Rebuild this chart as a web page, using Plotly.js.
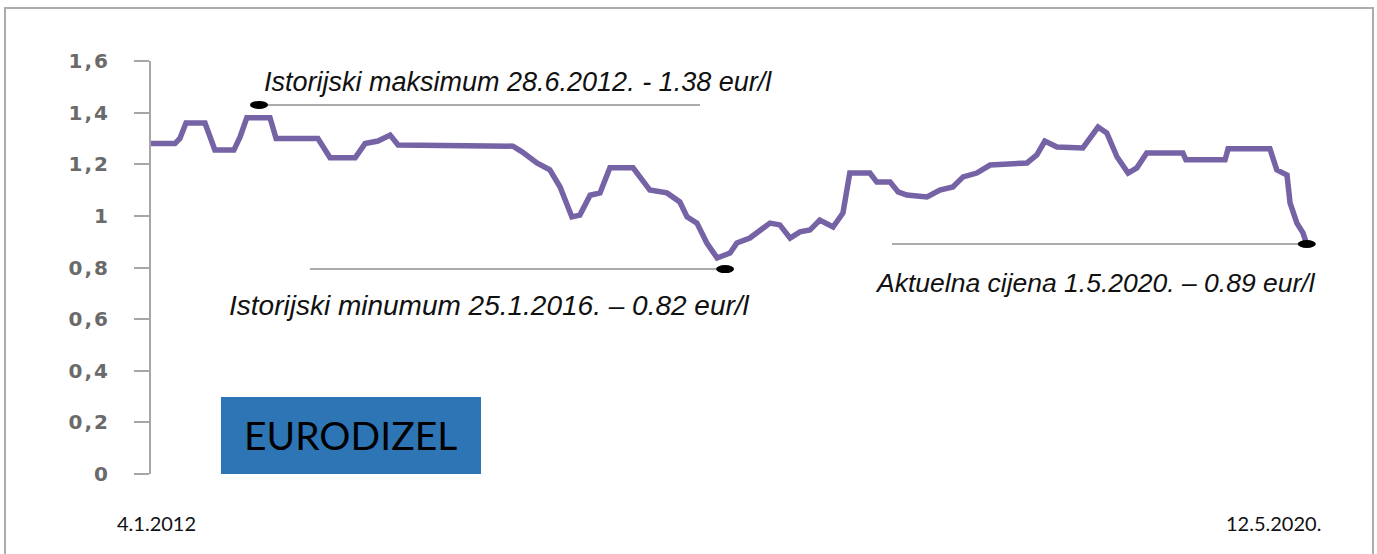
<!DOCTYPE html>
<html>
<head>
<meta charset="utf-8">
<script src="https://cdn.plot.ly/plotly-3.0.1.min.js"></script>
<style>
  html, body { margin: 0; padding: 0; background: #fff; }
  #chart { width: 1377px; height: 554px; }
  #frame { position: absolute; left: 4px; top: 7px; width: 1366px; height: 600px;
           border: 2px solid #ababab; pointer-events: none; }
  .ytick text { letter-spacing: 2px; }
</style>
</head>
<body>
<div id="chart"></div>
<div id="frame"></div>
<script>
// days since 4.1.2012 (positions) and price in eur/l
const days = [0, 63, 76, 92, 142, 168, 218, 234, 252, 313, 329, 439, 471, 537, 563, 597, 629, 650,
  952, 976, 1015, 1049, 1076, 1107, 1128, 1155, 1181, 1207, 1268, 1312, 1357, 1391, 1410, 1436,
  1462, 1489, 1523, 1541, 1575, 1628, 1654, 1681, 1707, 1733, 1759, 1794, 1820, 1838, 1891, 1909,
  1944, 1965, 1988, 2022, 2041, 2075, 2109, 2136, 2172, 2207, 2304, 2330, 2351, 2383, 2451, 2491,
  2514, 2541, 2570, 2593, 2619, 2714, 2722, 2825, 2833, 2943, 2961, 2988, 2996, 3014, 3030, 3040];
const price = [1.28, 1.28, 1.30, 1.36, 1.36, 1.255, 1.255, 1.305, 1.38, 1.38, 1.30, 1.30, 1.225, 1.225,
  1.28, 1.29, 1.313, 1.275, 1.27, 1.248, 1.205, 1.178, 1.112, 0.996, 1.003, 1.08, 1.089, 1.186, 1.186,
  1.10, 1.089, 1.054, 0.996, 0.972, 0.895, 0.837, 0.856, 0.895, 0.914, 0.972, 0.965, 0.914, 0.938,
  0.945, 0.984, 0.957, 1.011, 1.166, 1.166, 1.131, 1.131, 1.093, 1.081, 1.073, 1.073, 1.10, 1.112,
  1.151, 1.166, 1.197, 1.205, 1.236, 1.29, 1.267, 1.263, 1.344, 1.321, 1.228, 1.166, 1.186, 1.244,
  1.244, 1.217, 1.217, 1.26, 1.26, 1.178, 1.158, 1.05, 0.972, 0.934, 0.89];

// annotation markers (max, min, current)
const markDays = [284, 1510, 3040];
const markVals = [1.43, 0.794, 0.891];
const guideStart = [300, 418, 1949];
const guideEnd = [1444, 1496, 3022];
const labelTexts = ["Istorijski maksimum 28.6.2012. - 1.38 eur/l",
                    "Istorijski minumum 25.1.2016. \u2013 0.82 eur/l",
                    "Aktuelna cijena 1.5.2020. \u2013 0.89 eur/l"];
const labelDays = [292, 200, 1899];
const labelVals = [1.519, 0.651, 0.740];
const labelSizes = [27, 28, 26.5];

const startLabel = "4.1.2012";
const endLabel = "12.5.2020.";
const boxText = "EURODIZEL";

const shapes = [];
const annotations = [];
for (let i = 0; i < markDays.length; i++) {
  shapes.push({type: 'line', xref: 'x', yref: 'y', x0: guideStart[i], x1: guideEnd[i],
    y0: markVals[i], y1: markVals[i], line: {color: '#ababab', width: 2}});
  shapes.push({type: 'circle', xref: 'x', yref: 'y', xsizemode: 'pixel', ysizemode: 'pixel',
    xanchor: markDays[i], yanchor: markVals[i], x0: -9, x1: 9, y0: -4, y1: 4,
    fillcolor: '#000', line: {width: 0}});
  annotations.push({xref: 'x', yref: 'y', x: labelDays[i], y: labelVals[i], xanchor: 'left',
    yanchor: 'middle', text: labelTexts[i], showarrow: false,
    font: {family: 'Liberation Sans, Arial, sans-serif', size: labelSizes[i], style: 'italic', color: '#111'}});
}
// EURODIZEL box
shapes.push({type: 'rect', xref: 'x', yref: 'y', x0: 184, x1: 868, y0: 0, y1: 0.298,
  fillcolor: '#2E75B6', line: {width: 0}});
annotations.push({xref: 'x', yref: 'y', x: 526, y: 0.151, text: boxText, showarrow: false,
  xanchor: 'center', yanchor: 'middle', font: {family: 'Lato, Open Sans, sans-serif', size: 39, color: '#000'}});
annotations.push({xref: 'paper', yref: 'paper', x: -0.0307, y: -0.1186, text: startLabel, showarrow: false,
  xanchor: 'left', yanchor: 'middle', font: {family: 'Lato, sans-serif', size: 20, color: '#111'}});
annotations.push({xref: 'paper', yref: 'paper', x: 0.9163, y: -0.1186, text: endLabel, showarrow: false,
  xanchor: 'left', yanchor: 'middle', font: {family: 'Lato, sans-serif', size: 20, color: '#111'}});

const trace = {x: days, y: price, type: 'scatter', mode: 'lines',
  line: {color: '#7563A5', width: 5.5, shape: 'linear'}, hoverinfo: 'skip'};

const layout = {
  width: 1377, height: 554,
  margin: {l: 151, r: 55, t: 61, b: 80},
  paper_bgcolor: '#fff', plot_bgcolor: '#fff',
  separators: ',.',
  showlegend: false,
  xaxis: {range: [0, 3080], showline: false, showticklabels: false, showgrid: false,
          zeroline: false, ticks: ''},
  yaxis: {range: [0, 1.6], dtick: 0.2, tick0: 0, showline: true, linecolor: '#a6a6a6', linewidth: 2,
          ticks: 'outside', ticklen: 15, tickwidth: 2, tickcolor: '#a6a6a6', showgrid: false,
          zeroline: false, ticklabelstandoff: 20,
          tickfont: {family: 'DejaVu Sans, sans-serif', size: 20, weight: 'bold', color: '#6a6a6a'}},
  shapes: shapes,
  annotations: annotations
};
Plotly.newPlot('chart', [trace], layout, {displayModeBar: false, staticPlot: true});
</script>
</body>
</html>
